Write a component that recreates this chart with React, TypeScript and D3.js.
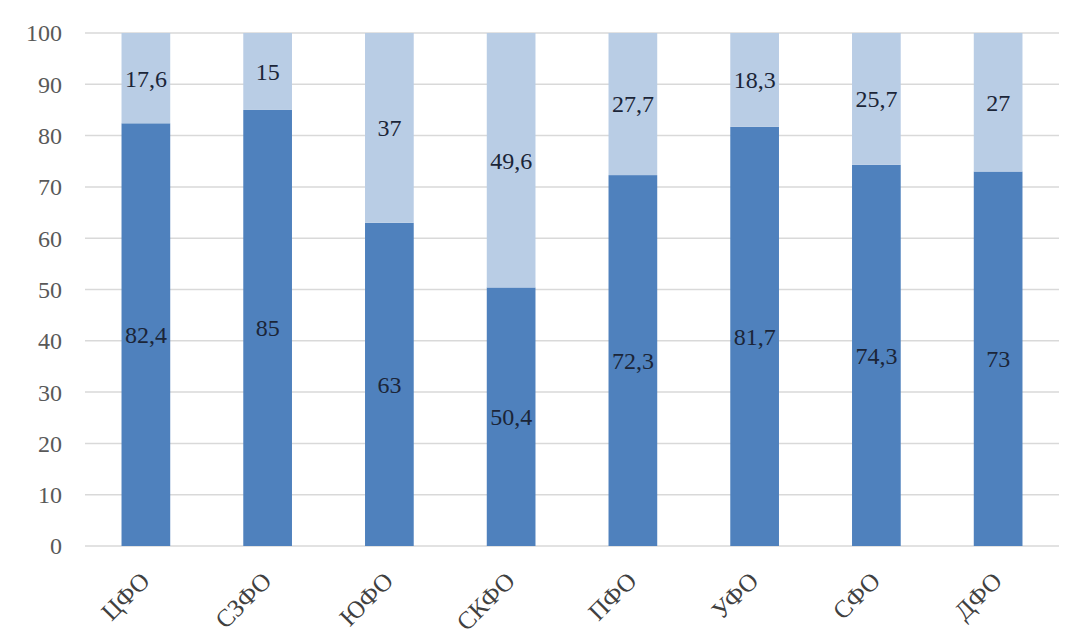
import React from "react";
import * as d3 from "d3";

const categories = ["ЦФО", "СЗФО", "ЮФО", "СКФО", "ПФО", "УФО", "СФО", "ДФО"];
const darkValues = [82.4, 85, 63, 50.4, 72.3, 81.7, 74.3, 73];
const lightValues = [17.6, 15, 37, 49.6, 27.7, 18.3, 25.7, 27];
const darkLabels = ["82,4", "85", "63", "50,4", "72,3", "81,7", "74,3", "73"];
const lightLabels = ["17,6", "15", "37", "49,6", "27,7", "18,3", "25,7", "27"];
const yTicks = [0, 10, 20, 30, 40, 50, 60, 70, 80, 90, 100];

const W = 1078;
const H = 641;
const left = 85;
const right = 1059;
const top = 33;
const bottom = 546;
const font = "'Liberation Serif', 'Times New Roman', Times, serif";

export default function App() {
  const x = d3.scaleBand<string>().domain(categories).range([left, right]).paddingInner(0.6).paddingOuter(0.3);
  const y = d3.scaleLinear().domain([0, 100]).range([bottom, top]);
  return (
    <svg width={W} height={H} style={{ position: "absolute", left: 0, top: 0, background: "#fff" }}>
      {yTicks.map((t) => (
        <g key={t}>
          <line x1={left} x2={right} y1={y(t)} y2={y(t)} stroke="#d9d9d9" strokeWidth={1.5} />
          <text x={62} y={y(t)} dy="0.35em" textAnchor="end" fontFamily={font} fontSize={24} fill="#595959">
            {t}
          </text>
        </g>
      ))}
      {categories.map((c, i) => {
        const bx = x(c)!;
        const bw = x.bandwidth();
        const cx = bx + bw / 2;
        const d = darkValues[i];
        const l = lightValues[i];
        return (
          <g key={c}>
            <rect x={bx} width={bw} y={y(d)} height={y(0) - y(d)} fill="#4f81bd" />
            <rect x={bx} width={bw} y={y(d + l)} height={y(d) - y(d + l)} fill="#b9cde5" />
            <text x={cx} y={y(d / 2)} dy="0.35em" textAnchor="middle" fontFamily={font} fontSize={24} fill="#1b2538">
              {darkLabels[i]}
            </text>
            <text x={cx} y={y(d + l / 2)} dy="0.35em" textAnchor="middle" fontFamily={font} fontSize={24} fill="#1b2538">
              {lightLabels[i]}
            </text>
            <text
              transform={`translate(${cx - 7},${bottom + 24}) rotate(-45)`}
              textAnchor="end"
              dy="0.7em"
              fontFamily={font}
              fontSize={25}
              fill="#404040"
            >
              {c}
            </text>
          </g>
        );
      })}
    </svg>
  );
}
